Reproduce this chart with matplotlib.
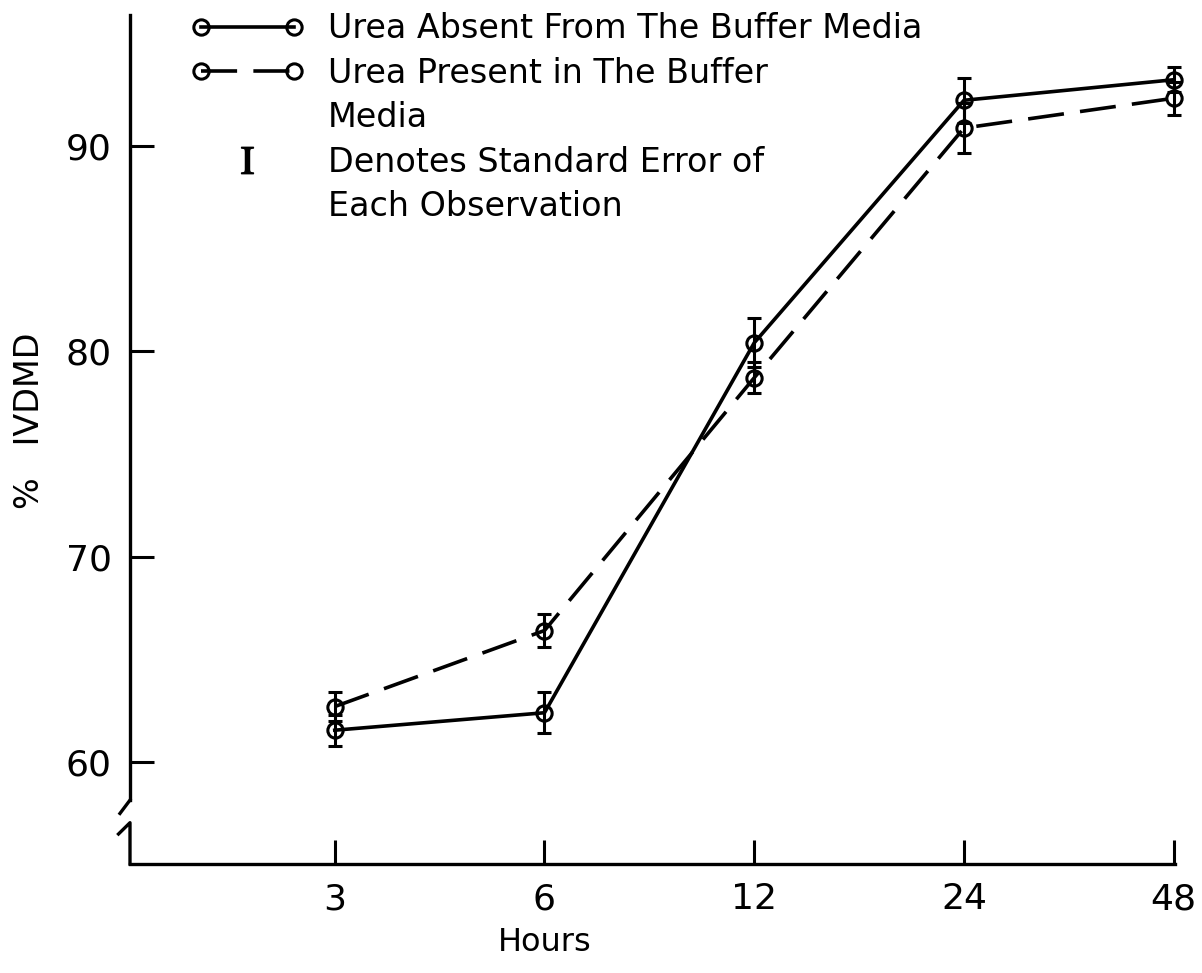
# IVDMD vs incubation time, urea absent / present
import numpy as np
import matplotlib.pyplot as plt
from matplotlib.lines import Line2D
from matplotlib.legend_handler import HandlerLine2D
from matplotlib import transforms

plt.rcParams['font.family'] = ['DejaVu Sans']
plt.rcParams['mathtext.fontset'] = 'stix'

# Data
hours = [3, 6, 12, 24, 48]
absent = [61.55, 62.4, 80.4, 92.2, 93.2]
absent_se = [0.75, 1.0, 1.2, 1.1, 0.6]
present = [62.7, 66.4, 78.7, 90.85, 92.3]
present_se = [0.7, 0.8, 0.75, 1.2, 0.8]
yticks = [60, 70, 80, 90]

fig = plt.figure(figsize=(12.02, 9.73), dpi=100)
ax = fig.add_axes([130/1202, 1 - 864/973, 1045/1202, 849/973])

dash = (0, (10, 4.5))
common = dict(color='black', lw=2.6, marker='o', ms=11, mfc='none', mec='black',
              mew=2.2, capsize=5, capthick=2.8, elinewidth=2.2, clip_on=False)
ax.errorbar(hours, present, yerr=present_se, ls=dash, **common)
ax.errorbar(hours, absent, yerr=absent_se, ls='-', **common)

ax.set_xscale('log', base=2)
ax.set_xlim(1.525, 48.2)
ax.set_ylim(55.04, 96.35)
ax.set_xticks(hours)
ax.set_xticklabels([str(h) for h in hours])
ax.xaxis.set_minor_locator(plt.NullLocator())
ax.set_yticks(yticks)

for s in ['top', 'right']:
    ax.spines[s].set_visible(False)
ax.spines['bottom'].set_linewidth(2.4)
ax.spines['left'].set_linewidth(2.4)
ax.spines['left'].set_bounds(58.15, 96.35)

# axis break on the y axis
tr = transforms.blended_transform_factory(ax.transAxes, ax.transData)
ax.plot([0, -0.0096], [58.15, 57.5], color='black', lw=2.4, transform=tr, clip_on=False)
ax.plot([-0.011, 0, 0], [56.5, 57.05, 55.04], color='black', lw=2.4,
        transform=tr, clip_on=False)

ax.tick_params(direction='in', length=17, width=2.2, labelsize=26, pad=13)

ax.set_xlabel('Hours', fontsize=23, va='center')
ax.xaxis.set_label_coords(0.397, -0.093)
ax.set_ylabel('%   IVDMD', fontsize=24, va='center')
ax.yaxis.set_label_coords(-0.0957, 0.522)

# legend
h1 = Line2D([], [], color='black', lw=2.6, marker='o', ms=11, mfc='none', mew=2.2)
h2 = Line2D([], [], color='black', lw=2.6, ls=dash, marker='o', ms=11, mfc='none', mew=2.2)
h3 = Line2D([], [], ls='none', marker=r'$\mathrm{I}$', ms=19, color='black')
b1 = Line2D([], [], ls='none')
b2 = Line2D([], [], ls='none')
ax.legend([h1, h2, b1, h3, b2],
          ['Urea Absent From The Buffer Media', 'Urea Present in The Buffer', 'Media',
           'Denotes Standard Error of', 'Each Observation'],
          handler_map={h3: HandlerLine2D(numpoints=1)}, numpoints=2,
          fontsize=24, frameon=False, handlelength=3.39, handletextpad=0.72,
          labelspacing=0.345, borderpad=0, borderaxespad=0,
          loc='upper left', bbox_to_anchor=(0.058, 1.003))

plt.savefig('out.png', dpi=100)
